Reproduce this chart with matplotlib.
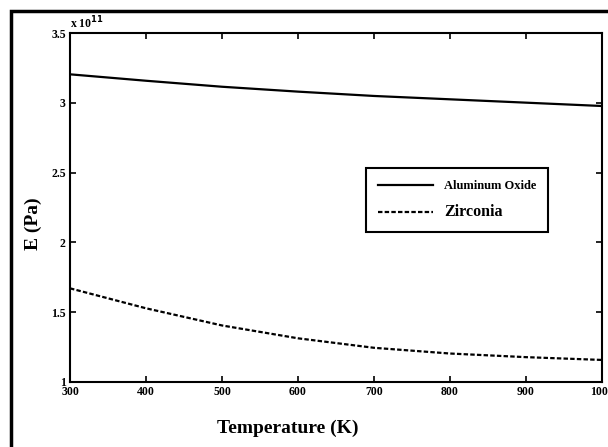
import numpy as np
import matplotlib
matplotlib.use("Agg")
import matplotlib.pyplot as plt
import matplotlib.patches as mpatches

plt.rcParams["font.family"] = "Liberation Serif"
plt.rcParams["font.weight"] = "bold"

# temperature [K] and Young's modulus [x 1e11 Pa]
temp = [300, 400, 500, 600, 700, 800, 900, 1000]
E_alumina = [3.204, 3.158, 3.115, 3.080, 3.049, 3.025, 3.001, 2.977]
E_zirconia = [1.671, 1.528, 1.405, 1.313, 1.245, 1.204, 1.178, 1.158]

x_ticks = [300, 400, 500, 600, 700, 800, 900, 1000]
y_ticks = [1, 1.5, 2, 2.5, 3, 3.5]
y_tick_labels = ['1', '1.5', '2', '2.5', '3', '3.5']

fig = plt.figure(figsize=(6.08, 4.47), dpi=100)
ax = fig.add_axes([70 / 608, 1 - 382 / 447, 532 / 608, 349 / 447])

ax.plot(temp, E_alumina, '-k', linewidth=1.6, label='Aluminum Oxide')
ax.plot(temp, E_zirconia, color='k', linestyle=(0, (2, 1.0)), linewidth=1.6, label='Zirconia')

ax.set_xlim(300, 1000)
ax.set_ylim(1, 3.5)
ax.set_xticks(x_ticks)
ax.set_yticks(y_ticks)
ax.set_yticklabels(y_tick_labels)
ax.tick_params(direction='in', top=True, right=True, length=4, width=1.2,
               labelsize=8.5, pad=3)
for lab in ax.get_xticklabels() + ax.get_yticklabels():
    lab.set_fontweight('bold')
for sp in ax.spines.values():
    sp.set_linewidth(1.5)

ax.text(0.0, 1.005, r'x 10$^{11}$', transform=ax.transAxes, fontsize=8.5,
        fontweight='bold', ha='left', va='bottom')

fig.text(288 / 608, 1 - 428 / 447, 'Temperature (K)', fontsize=14, fontweight='bold',
         ha='center', va='center')
fig.text(33 / 608, 1 - 224 / 447, 'E (Pa)', fontsize=14, fontweight='bold',
         ha='center', va='center', rotation=90)

leg = ax.legend(loc='upper left', bbox_to_anchor=(366 / 608, 1 - 168 / 447),
                bbox_transform=fig.transFigure, borderaxespad=0, fancybox=False,
                edgecolor='k', framealpha=1, handlelength=4.4, handletextpad=0.9,
                borderpad=0.95, labelspacing=1.0, prop={'weight': 'bold', 'size': 9})
leg.get_frame().set_linewidth(1.5)
leg.get_texts()[1].set_fontsize(11.5)

# outer frame around the whole figure
fig.patches.append(mpatches.Rectangle((11 / 608, -0.05), 1.0, 1 - 11 / 447 + 0.05,
                                      transform=fig.transFigure, fill=False,
                                      edgecolor='k', linewidth=2.5))

fig.savefig('out.png', dpi=100)
